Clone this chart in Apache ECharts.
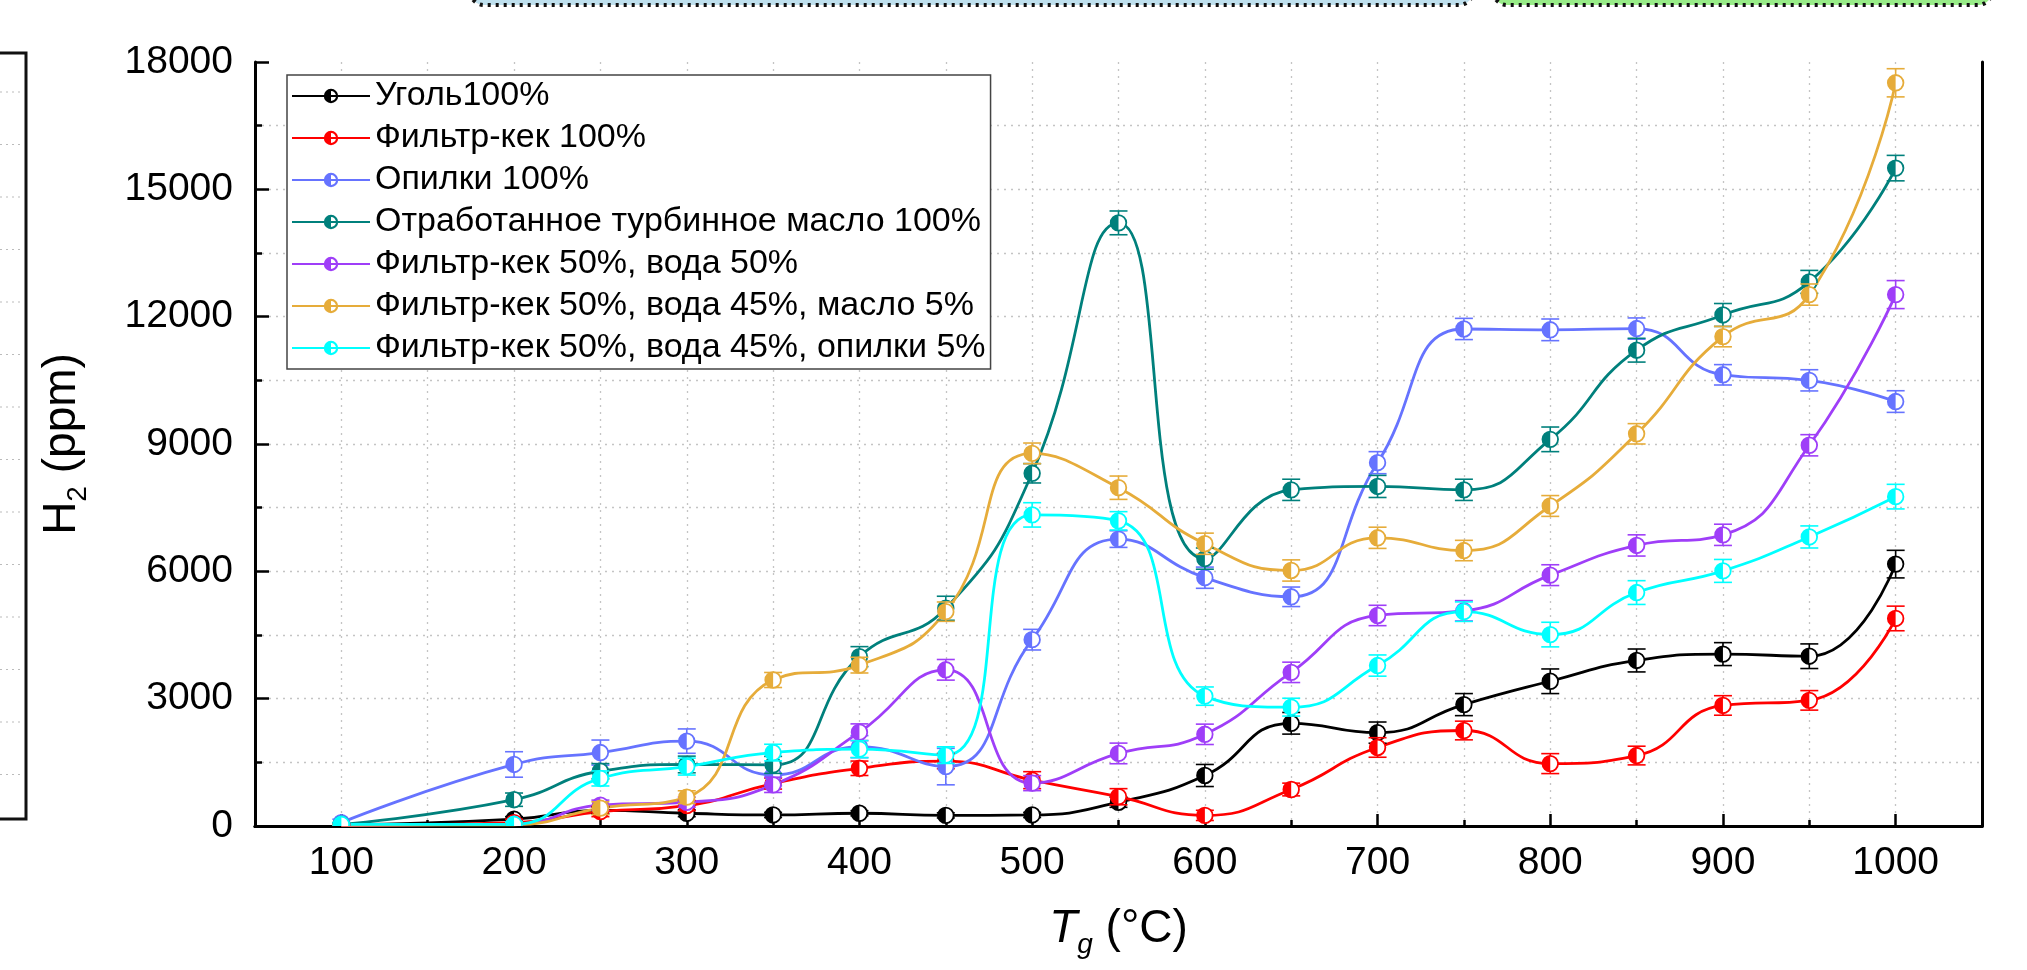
<!DOCTYPE html>
<html>
<head>
<meta charset="utf-8">
<title>H2 vs Tg</title>
<script src="https://cdn.jsdelivr.net/npm/echarts@6/dist/echarts.min.js"></script>
<style>
  html, body { margin: 0; padding: 0; background: #fff; }
  #chart { width: 2027px; height: 970px; }
</style>
</head>
<body>
<div id="chart"></div>
<script>
// температура газификации, °C
var temps = [100, 200, 250, 300, 350, 400, 450, 500, 550, 600, 650, 700, 750, 800, 850, 900, 950, 1000];

// H2, ppm
var coal = [30, 160, 370, 300, 260, 300, 250, 260, 560, 1190, 2420, 2200, 2860, 3410, 3900, 4050, 4000, 6170];
var filterCake = [10, 80, 340, 480, 1000, 1360, 1530, 1080, 690, 250, 860, 1850, 2250, 1470, 1660, 2840, 2960, 4890];
var sawdust = [80, 1450, 1730, 2000, 1200, 1870, 1400, 4390, 6760, 5850, 5400, 8560, 11710, 11690, 11720, 10630, 10500, 10000];
var turbineOil = [40, 620, 1290, 1450, 1440, 3990, 5130, 8310, 14210, 6300, 7920, 8000, 7920, 9110, 11210, 12040, 12820, 15500];
var cakeWater = [20, 40, 490, 560, 970, 2210, 3680, 1010, 1710, 2160, 3620, 4960, 5070, 5910, 6610, 6860, 8970, 12520];
var cakeWaterOil = [20, 30, 420, 680, 3440, 3790, 5050, 8780, 7970, 6650, 6020, 6790, 6490, 7540, 9240, 11530, 12520, 17510];
var cakeWaterSaw = [40, 40, 1120, 1400, 1730, 1810, 1670, 7330, 7190, 3060, 2800, 3780, 5050, 4510, 5500, 6010, 6810, 7760];

// погрешности (±), ppm
var coalErr = [30, 60, 80, 80, 60, 60, 60, 60, 120, 260, 255, 250, 260, 290, 270, 270, 290, 325];
var filterCakeErr = [20, 80, 120, 120, 130, 170, 180, 200, 190, 120, 150, 230, 220, 235, 220, 230, 230, 290];
var sawdustErr = [80, 300, 295, 287, 250, 260, 430, 243, 196, 250, 230, 260, 250, 255, 250, 240, 250, 255];
var turbineOilErr = [40, 157, 180, 196, 200, 236, 283, 228, 280, 250, 250, 260, 250, 290, 280, 270, 270, 300];
var cakeWaterErr = [20, 40, 120, 120, 180, 196, 243, 177, 243, 240, 240, 240, 240, 245, 250, 250, 250, 330];
var cakeWaterOilErr = [20, 40, 150, 150, 177, 185, 228, 243, 275, 250, 250, 250, 240, 245, 240, 240, 250, 332];
var cakeWaterSawErr = [40, 60, 177, 200, 196, 200, 196, 287, 216, 216, 210, 250, 230, 290, 280, 270, 260, 290];

var names = [
    'Уголь100%',
    'Фильтр-кек 100%',
    'Опилки 100%',
    'Отработанное турбинное масло 100%',
    'Фильтр-кек 50%, вода 50%',
    'Фильтр-кек 50%, вода 45%, масло 5%',
    'Фильтр-кек 50%, вода 45%, опилки 5%'
];
var colors = ['#000000', '#ff0000', '#6673ff', '#00807c', '#9f3ef8', '#e6ac3a', '#00ffff'];
var values = [coal, filterCake, sawdust, turbineOil, cakeWater, cakeWaterOil, cakeWaterSaw];
var errors = [coalErr, filterCakeErr, sawdustErr, turbineOilErr, cakeWaterErr, cakeWaterOilErr, cakeWaterSawErr];

var xMajor = [100, 200, 300, 400, 500, 600, 700, 800, 900, 1000];
var yMajor = [0, 3000, 6000, 9000, 12000, 15000, 18000];

var FONT = 'Liberation Sans, Arial, sans-serif';

// кружок, закрашенный наполовину (для легенды)
var halfCircle = 'path://M0,10A10,10 0 1,1 20,10A10,10 0 1,1 0,10Z' +
    'M3,10A7,7 0 1,0 17,10A7,7 0 1,0 3,10Z' +
    'M10,3A7,7 0 0,0 10,17Z';

// планка погрешности + маркер
function renderPoint(params, api) {
    var x = api.value(0), y = api.value(1), e = api.value(2);
    var c = api.coord([x, y]);
    var hi = api.coord([x, y + e]);
    var lo = api.coord([x, y - e]);
    var col = api.visual('color');
    var w = 9, r = 7.8;
    var st = { stroke: col, lineWidth: 1.6 };
    return {
        type: 'group',
        children: [
            { type: 'line', shape: { x1: c[0], y1: hi[1], x2: c[0], y2: lo[1] }, style: st },
            { type: 'line', shape: { x1: c[0] - w, y1: hi[1], x2: c[0] + w, y2: hi[1] }, style: st },
            { type: 'line', shape: { x1: c[0] - w, y1: lo[1], x2: c[0] + w, y2: lo[1] }, style: st },
            { type: 'circle', shape: { cx: c[0], cy: c[1], r: r }, style: { fill: '#fff', stroke: col, lineWidth: 1.8 } },
            { type: 'sector', shape: { cx: c[0], cy: c[1], r0: 0, r: r, startAngle: Math.PI / 2, endAngle: Math.PI * 3 / 2 }, style: { fill: col } }
        ]
    };
}

var series = [];
var i, k;
for (i = 0; i < names.length; i++) {
    var pts = [];
    for (k = 0; k < temps.length; k++) pts.push([temps[k], values[i][k]]);
    series.push({
        name: names[i],
        type: 'line',
        data: pts,
        smooth: 0.5,
        showSymbol: false,
        symbol: halfCircle,
        itemStyle: { color: colors[i] },
        lineStyle: { color: colors[i], width: 2.8 },
        emphasis: { disabled: true },
        z: 2
    });
}
for (i = 0; i < names.length; i++) {
    var pe = [];
    for (k = 0; k < temps.length; k++) pe.push([temps[k], values[i][k], errors[i][k]]);
    series.push({
        name: names[i],
        type: 'custom',
        data: pe,
        encode: { x: 0, y: 1 },
        renderItem: renderPoint,
        itemStyle: { color: colors[i] },
        clip: true,
        z: 3
    });
}

// обрезки соседних панелей рисунка
var graphics = [
    { type: 'rect', shape: { x: 470, y: -60, width: 1003, height: 65, r: 14 }, style: { fill: '#bfe0ee', stroke: '#111', lineWidth: 4, lineDash: [3, 5] } },
    { type: 'rect', shape: { x: 1493, y: -60, width: 499, height: 65, r: 14 }, style: { fill: '#98ec88', stroke: '#111', lineWidth: 4, lineDash: [3, 5] } },
    { type: 'rect', shape: { x: -20, y: 53, width: 46, height: 766 }, style: { fill: 'none', stroke: '#111', lineWidth: 3 } }
];
for (k = 0; k < 14; k++) {
    var gy = 92 + k * 52.5;
    graphics.push({ type: 'line', shape: { x1: 0, y1: gy, x2: 22, y2: gy }, style: { stroke: '#bbb', lineWidth: 1.2, lineDash: [2, 4] } });
}

// рамка поверх сетки
var frameAxis = { show: true, lineStyle: { color: '#000', width: 3 } };

var chart = echarts.init(document.getElementById('chart'));
chart.setOption({
    animation: false,
    backgroundColor: '#fff',
    textStyle: { fontFamily: FONT },
    grid: { left: 255, right: 45, top: 62, bottom: 144, show: false },
    legend: {
        data: names,
        orient: 'vertical',
        left: 287,
        top: 75,
        itemWidth: 78,
        itemHeight: 18,
        itemGap: 8,
        padding: [4, 5, 4, 4],
        borderColor: '#444',
        borderWidth: 1.5,
        borderRadius: 0,
        backgroundColor: '#fff',
        textStyle: { fontFamily: FONT, fontSize: 34, color: '#000' },
        selectedMode: false
    },
    xAxis: [
        {
            type: 'value',
            min: 50,
            max: 1050,
            interval: 50,
            name: '{i|T}{g|g}{a| (°C)}',
            nameLocation: 'middle',
            nameGap: 80,
            nameTextStyle: {
                color: '#000',
                rich: {
                    i: { fontFamily: FONT, fontSize: 46, fontStyle: 'italic', lineHeight: 50, verticalAlign: 'top' },
                    g: { fontFamily: FONT, fontSize: 28, fontStyle: 'italic', lineHeight: 28, padding: [28, 0, 0, 0] },
                    a: { fontFamily: FONT, fontSize: 46, lineHeight: 50, verticalAlign: 'top' }
                }
            },
            axisLine: frameAxis,
            axisTick: { inside: true, length: 6, lineStyle: { color: '#000', width: 2.5 } },
            axisLabel: {
                margin: 18,
                fontSize: 39,
                color: '#000',
                fontFamily: FONT,
                formatter: function (v) { return xMajor.indexOf(v) >= 0 ? String(v) : ''; }
            },
            splitLine: { show: true, showMinLine: false, showMaxLine: false, lineStyle: { color: '#c4c4c4', width: 1.3, type: [2, 5] } }
        },
        {
            type: 'value',
            min: 50,
            max: 1050,
            position: 'bottom',
            axisLine: { show: false },
            axisTick: { inside: true, length: 12, customValues: xMajor, lineStyle: { color: '#000', width: 2.5 } },
            axisLabel: { show: false, customValues: xMajor },
            splitLine: { show: false }
        },
        {
            type: 'value',
            min: 50,
            max: 1050,
            position: 'top',
            axisLine: frameAxis,
            axisTick: { show: false },
            axisLabel: { show: false },
            splitLine: { show: false }
        }
    ],
    yAxis: [
        {
            type: 'value',
            min: 0,
            max: 18000,
            interval: 1500,
            name: '{a|H}{s|2}{a| (ppm)}',
            nameLocation: 'middle',
            nameRotate: 90,
            nameGap: 166,
            nameTextStyle: {
                color: '#000',
                rich: {
                    a: { fontFamily: FONT, fontSize: 46, lineHeight: 50, verticalAlign: 'top' },
                    s: { fontFamily: FONT, fontSize: 28, lineHeight: 28, padding: [28, 0, 0, 0] }
                }
            },
            axisLine: frameAxis,
            axisTick: { inside: true, length: 7, lineStyle: { color: '#000', width: 2.5 } },
            axisLabel: {
                margin: 22,
                fontSize: 39,
                color: '#000',
                fontFamily: FONT,
                formatter: function (v) { return yMajor.indexOf(v) >= 0 ? String(v) : ''; }
            },
            splitLine: { show: true, showMinLine: false, showMaxLine: false, lineStyle: { color: '#c4c4c4', width: 1.3, type: [2, 5] } }
        },
        {
            type: 'value',
            min: 0,
            max: 18000,
            interval: 3000,
            position: 'left',
            axisLine: { show: false },
            axisTick: { inside: true, length: 14, lineStyle: { color: '#000', width: 2.5 } },
            axisLabel: { show: false },
            splitLine: { show: false }
        },
        {
            type: 'value',
            min: 0,
            max: 18000,
            position: 'right',
            axisLine: frameAxis,
            axisTick: { show: false },
            axisLabel: { show: false },
            splitLine: { show: false }
        }
    ],
    graphic: graphics,
    series: series
});
</script>
</body>
</html>
